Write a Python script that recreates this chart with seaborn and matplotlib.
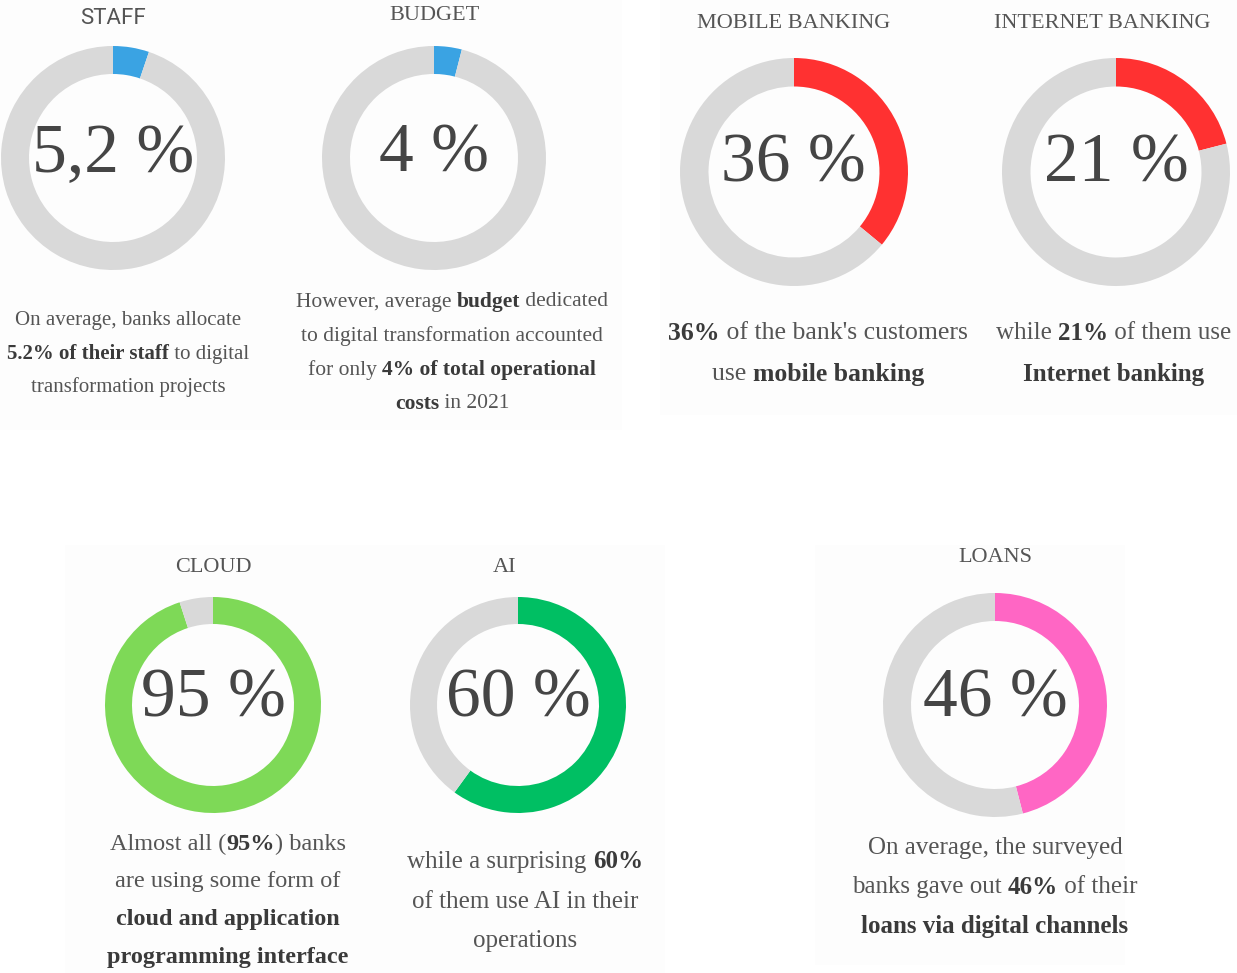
import matplotlib.pyplot as plt
import seaborn as sns
from matplotlib.patches import Rectangle

# ---------------------------------------
# 1. Data
# ---------------------------------------
titles = ["STAFF", "BUDGET", "MOBILE BANKING", "INTERNET BANKING", "CLOUD", "AI", "LOANS"]
values = [5.2, 4, 36, 21, 95, 60, 46]
value_labels = ["5,2 %", "4 %", "36 %", "21 %", "95 %", "60 %", "46 %"]
ring_colors = ["#3AA3E3", "#3AA3E3", "#FF3131", "#FF3131", "#7ED957", "#00BF63", "#FF66C4"]
rest_color = "#D9D9D9"

# **...** marks the bold parts
captions = [
    ["On average, banks allocate",
     "**5.2% of their staff** to digital",
     "transformation projects"],
    ["However, average **budget** dedicated",
     "to digital transformation accounted",
     "for only **4% of total operational**",
     "**costs** in 2021"],
    ["**36%** of the bank's customers",
     "use **mobile banking**"],
    ["while **21%** of them use",
     "**Internet banking**"],
    ["Almost all (**95%**) banks",
     "are using some form of",
     "**cloud and application**",
     "**programming interface**"],
    ["while a surprising **60%**",
     "of them use AI in their",
     "operations"],
    ["On average, the surveyed",
     "banks gave out **46%** of their",
     "**loans via digital channels**"],
]

# ---------------------------------------
# 2. Layout (pixels on a 1237x973 canvas)
# ---------------------------------------
W, H = 1237, 973
centers = [(113, 158), (434, 158), (794, 172), (1116, 172), (213, 705), (518, 705), (995, 705)]
radii = [112, 112, 114, 114, 108, 108, 112]
title_pos = [(113, 18), (434, 15), (794, 23), (1102, 23), (213, 567), (505, 567), (995, 557)]
number_pos = [(113, 155), (434, 155), (793, 165), (1116, 165), (213, 700), (518, 700), (995, 700)]
caption_x = [128, 452, 818, 1114, 228, 525, 995]
caption_y0 = [321, 302, 333, 333, 844, 862, 848]
caption_step = [33, 34, 41, 41, 38, 39.5, 39]
caption_size = [15, 15.5, 18.5, 18, 17.5, 18, 18]

sns.set_theme(style="white")
plt.rcParams["font.family"] = ["Liberation Serif", "DejaVu Serif"]

fig = plt.figure(figsize=(W / 100, H / 100), dpi=100)
fig.patch.set_facecolor("white")
renderer = fig.canvas.get_renderer()


def fx(x):
    return x / W


def fy(y):
    return 1 - y / H


# faint panel backgrounds
for x0, y0, x1, y1 in [(0, 0, 622, 430), (660, 0, 1237, 415),
                       (65, 545, 665, 973), (815, 545, 1125, 965)]:
    fig.patches.append(Rectangle((fx(x0), fy(y1)), (x1 - x0) / W, (y1 - y0) / H,
                                 transform=fig.transFigure, facecolor="#FDFDFD",
                                 edgecolor="none", zorder=-5))


def rich_line(xc, yc, line, size):
    # split into normal / bold pieces, then lay them out centred on xc
    parts = line.split("**")
    pieces = []
    for k, p in enumerate(parts):
        if p == "":
            continue
        bold = k % 2 == 1
        t = fig.text(0, fy(yc), p, ha="left", va="center", fontsize=size,
                     fontweight="bold" if bold else "normal",
                     color="#3A3A3A" if bold else "#555555")
        w = t.get_window_extent(renderer).width
        pieces.append((t, w))
    total = sum(w for _, w in pieces)
    x = xc - total / 2
    for t, w in pieces:
        t.set_x(fx(x))
        x += w


# ---------------------------------------
# 3. Donuts
# ---------------------------------------
for i, v in enumerate(values):
    cx, cy = centers[i]
    r = radii[i]
    ax = fig.add_axes([fx(cx - r), fy(cy + r), 2 * r / W, 2 * r / H])
    ax.pie([v, 100 - v], colors=[ring_colors[i], rest_color], startangle=90,
           counterclock=False, radius=1,
           wedgeprops=dict(width=0.25, edgecolor="none", linewidth=0))
    ax.set_xlim(-1, 1)
    ax.set_ylim(-1, 1)
    ax.set_aspect("equal")
    ax.axis("off")

    # big number in the middle
    nx, ny = number_pos[i]
    fig.text(fx(nx), fy(ny), value_labels[i], ha="center", va="center",
             fontsize=50, color="#454545")

    # title above
    tx, ty = title_pos[i]
    if titles[i] == "STAFF":
        fig.text(fx(tx), fy(ty), titles[i], ha="center", va="center",
                 fontsize=16, color="#555555", family=["Roboto", "DejaVu Sans"])
    else:
        fig.text(fx(tx), fy(ty), titles[i], ha="center", va="center",
                 fontsize=16, color="#555555")

    # caption below
    for j, line in enumerate(captions[i]):
        rich_line(caption_x[i], caption_y0[i] + j * caption_step[i], line, caption_size[i])

plt.savefig("out.png", dpi=100, facecolor=fig.get_facecolor())
